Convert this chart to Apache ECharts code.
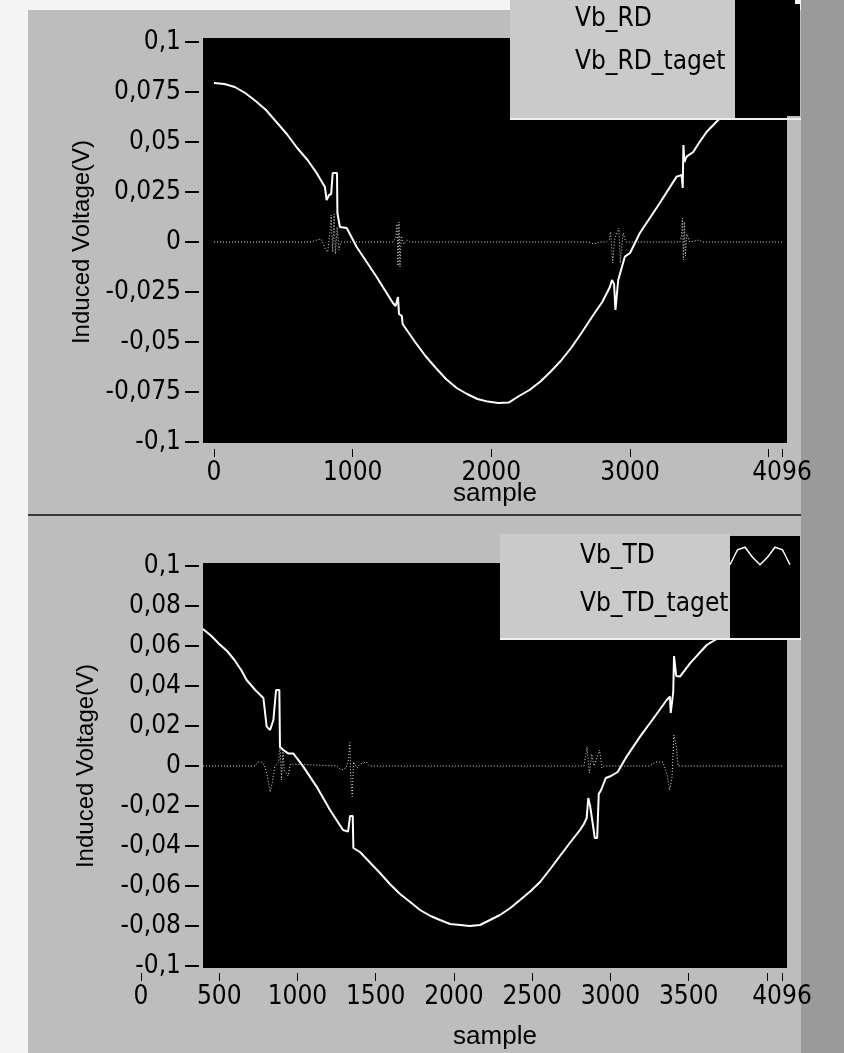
<!DOCTYPE html>
<html><head><meta charset="utf-8">
<script src="https://cdn.jsdelivr.net/npm/echarts@6/dist/echarts.min.js"></script>
<style>html,body{margin:0;padding:0;background:#fff}#c{width:844px;height:1053px}</style>
</head><body><div id="c"></div>
<script>
// ---------- data ----------
const xLabelsTop = [0, 1000, 2000, 3000, 4096];
const xTicksTop = [0, 1000, 2000, 3000, 4000, 4096];
const xLabelsBottom = [0, 500, 1000, 1500, 2000, 2500, 3000, 3500, 4096];
const xTicksBottom = [0, 500, 1000, 1500, 2000, 2500, 3000, 3500, 4000, 4096];

const rdSample = [0,75,150,225,300,375,450,525,600,675,740,800,812,830,845,856,887,890,908,957,1029,1173,1290,1310,1327,1334,1355,1360,1400,1450,1525,1600,1675,1750,1825,1900,1975,2050,2125,2200,2275,2350,2425,2500,2575,2650,2735,2800,2855,2870,2885,2895,2905,2915,2963,3000,3071,3215,3336,3372,3380,3385,3392,3408,3456,3492,3552,3636,3700,3800,3900,4000,4096];
const rdValue  = [0.0795,0.079,0.0775,0.0745,0.0705,0.066,0.06,0.054,0.047,0.041,0.0345,0.0275,0.021,0.0235,0.024,0.0345,0.0345,0.0145,0.0075,0.007,-0.0025,-0.0175,-0.0305,-0.032,-0.0275,-0.036,-0.037,-0.041,-0.045,-0.05,-0.057,-0.063,-0.0686,-0.073,-0.076,-0.0785,-0.0798,-0.0805,-0.0803,-0.077,-0.074,-0.07,-0.065,-0.0595,-0.053,-0.0455,-0.0365,-0.03,-0.0225,-0.019,-0.021,-0.034,-0.034,-0.019,-0.0073,-0.0055,0.0045,0.0195,0.0327,0.0335,0.027,0.0485,0.04,0.0427,0.045,0.049,0.055,0.061,0.0645,0.07,0.0745,0.0775,0.079];

const rdtSample = [0,700,740,770,790,805,820,835,845,856,866,876,888,900,915,1000,1290,1310,1320,1327,1334,1341,1350,1370,1390,1420,1680,1690,1700,2700,2740,2780,2830,2850,2860,2875,2890,2920,2930,2950,2970,3360,3370,3378,3385,3392,3400,3410,3430,3500,3520,4096];
const rdtValue  = [0,0,0.001,0.0015,-0.001,-0.004,-0.005,0.0045,0.0135,-0.005,0.014,-0.006,0.0075,-0.004,0,0,0,0.002,0.009,-0.012,0.01,-0.0125,0.003,-0.001,0.001,0,0,-0.001,0,0,-0.001,0,0,0.001,0.005,-0.0105,0.002,0.007,-0.0105,0.0045,0,0,0.003,0.012,-0.009,0.01,-0.007,0.004,0,0.001,0,0];

const tdSample = [396,450,500,550,597,640,675,730,782,793,803,825,846,858,863,884,888,909,941,973,1037,1122,1208,1291,1323,1336,1353,1357,1362,1399,1460,1527,1590,1655,1720,1783,1850,1911,1975,2040,2100,2166,2230,2294,2360,2422,2490,2550,2615,2677,2740,2805,2830,2848,2858,2870,2900,2915,2925,2940,2970,3003,3046,3103,3189,3295,3359,3380,3385,3401,3406,3412,3420,3444,3508,3615,3700,3800,3900,4000,4096];
const tdValue  = [0.0685,0.065,0.061,0.0575,0.053,0.048,0.043,0.038,0.034,0.0265,0.0197,0.018,0.023,0.024,0.038,0.038,0.0097,0.008,0.0063,0.0063,-0.0003,-0.0103,-0.022,-0.032,-0.0328,-0.025,-0.025,-0.041,-0.042,-0.043,-0.048,-0.0535,-0.059,-0.064,-0.068,-0.072,-0.075,-0.077,-0.079,-0.0795,-0.08,-0.0795,-0.077,-0.0745,-0.071,-0.067,-0.0625,-0.058,-0.0515,-0.045,-0.0385,-0.032,-0.029,-0.026,-0.016,-0.02,-0.036,-0.036,-0.014,-0.012,-0.006,-0.005,-0.003,0.0047,0.0147,0.026,0.033,0.0347,0.0265,0.037,0.055,0.0547,0.045,0.0447,0.0513,0.0605,0.0645,0.07,0.074,0.077,0.079];

const tdtSample = [396,730,745,770,790,810,825,840,855,880,888,898,907,915,940,955,965,1250,1280,1310,1325,1335,1342,1350,1358,1380,1400,1440,1460,2830,2850,2865,2880,2895,2930,2945,2960,3250,3290,3335,3361,3378,3393,3405,3420,3432,3460,4096];
const tdtValue  = [0,0,0.002,0.002,0,-0.006,-0.013,-0.008,0,0.002,0.0115,-0.007,0.008,-0.002,-0.005,0.001,0,0,-0.002,-0.001,0.003,0.0117,-0.0085,-0.0153,0.002,-0.001,0.001,0.002,0,0,0.0095,-0.0035,0.006,0,0.008,-0.001,0,0,0.002,0.002,-0.004,-0.012,-0.006,0.0155,0.01,0,0,0];

const seriesNames = ['Vb_RD', 'Vb_RD_taget', 'Vb_TD', 'Vb_TD_taget'];

// ---------- helpers ----------
const zip = (a, b) => a.map((s, i) => [s, b[i]]);
const fmtY = v => { const r = +(+v).toFixed(3); return (r === 0 ? '0' : String(r)).replace('.', ','); };
const NARROW = "'Liberation Sans Narrow','DejaVu Sans Condensed','Liberation Sans',sans-serif";
const REG = "'Liberation Sans','DejaVu Sans',sans-serif";
const PANEL = '#bdbdbd';
const LEGBG = '#cacaca';

const txt = { color: '#000', fontFamily: NARROW, fontSize: 26 };

function plotAxes(gi, labels, ticks, yint, yOffset) {
  return {
    x: {
      type: 'value', gridIndex: gi, min: 0, max: 4096, offset: 7,
      axisLine: { show: false, onZero: false },
      axisTick: { show: true, length: 8, lineStyle: { color: '#000', width: 1 }, customValues: ticks },
      axisLabel: Object.assign({ customValues: labels, margin: 11, formatter: v => String(v) }, txt),
      splitLine: { show: false }
    },
    y: {
      type: 'value', gridIndex: gi, min: -0.1, max: 0.1, interval: yint, offset: yOffset,
      axisLine: { show: false, onZero: false },
      axisTick: { show: true, length: 14, lineStyle: { color: '#000', width: 2 } },
      axisLabel: Object.assign({ margin: 18, formatter: fmtY }, txt),
      splitLine: { show: false },
      name: 'Induced Voltage(V)', nameLocation: 'middle', nameGap: 101, nameRotate: 90,
      nameTextStyle: { color: '#000', fontFamily: REG, fontSize: 24 }
    }
  };
}

const axTop = plotAxes(1, xLabelsTop, xTicksTop, 0.025, 15);
const axBot = plotAxes(3, xLabelsBottom, xTicksBottom, 0.02, -58);

function bgX(gi, gap) {
  return { type: 'value', gridIndex: gi, min: 0, max: 1, show: true,
    axisLine: { show: false, onZero: false }, axisTick: { show: false }, axisLabel: { show: false }, splitLine: { show: false },
    name: 'sample', nameLocation: 'middle', nameGap: gap,
    nameTextStyle: { color: '#000', fontFamily: REG, fontSize: 26 } };
}
function bgY(gi) {
  return { type: 'value', gridIndex: gi, min: 0, max: 1, show: false, splitLine: { show: false } };
}

const mainLine = { color: '#ffffff', width: 2 };
const tgtLine = { color: '#e2e2e2', width: 1, type: [1, 2] };

const waveIcon = 'path://M0,16 L6,4 L12,2 L18,10 L24,16 L30,10 L36,2 L42,4 L48,16';

function makeLegend(names, topPos, leftPos, itemH, textW, firstIcon) {
  return {
    data: names.map((n, i) => (i === 0 && firstIcon)
      ? { name: n, icon: firstIcon, itemStyle: { color: 'rgba(0,0,0,0)', borderColor: '#ffffff', borderWidth: 1.5 } }
      : { name: n, icon: 'rect', itemStyle: { color: '#000', borderWidth: 0 } }),
    orient: 'vertical', align: 'right', left: leftPos, top: topPos,
    padding: 0, itemGap: 0, itemWidth: 60, itemHeight: itemH,
    formatter: n => '{t|' + n + '}',
    textStyle: { color: '#000', fontFamily: NARROW, fontSize: 26,
      rich: { t: { width: textW, height: itemH, lineHeight: itemH, align: 'left', color: '#000', fontFamily: NARROW, fontSize: 26 } } },
    selectedMode: false, z: 10
  };
}

const option = {
  animation: false,
  backgroundColor: PANEL,
  graphic: [
    { type: 'rect', left: 0, top: 0, shape: { width: 28, height: 1053 }, style: { fill: '#f4f4f4' }, z: -1 },
    { type: 'rect', left: 0, top: 0, shape: { width: 844, height: 10 }, style: { fill: '#f4f4f4' }, z: -1 },
    { type: 'rect', left: 801, top: 0, shape: { width: 43, height: 1053 }, style: { fill: '#9a9a9a' }, z: -1 },
    { type: 'rect', left: 28, top: 514, shape: { width: 773, height: 2 }, style: { fill: '#3a3a3a' }, z: -1 },
    // legend boxes (top)
    { type: 'rect', left: 510, top: 0, shape: { width: 225, height: 120 }, style: { fill: LEGBG }, z: 5 },
    { type: 'rect', left: 735, top: 4, shape: { width: 65, height: 112 }, style: { fill: '#000' }, z: 5 },
    { type: 'rect', left: 510, top: 118, shape: { width: 291, height: 2 }, style: { fill: '#f0f0f0' }, z: 5 },
    // legend boxes (bottom)
    { type: 'rect', left: 500, top: 534, shape: { width: 230, height: 106 }, style: { fill: LEGBG }, z: 5 },
    { type: 'rect', left: 730, top: 536, shape: { width: 70, height: 104 }, style: { fill: '#000' }, z: 5 },
    { type: 'rect', left: 500, top: 638, shape: { width: 301, height: 2 }, style: { fill: '#f0f0f0' }, z: 5 }
  ],
  grid: [
    { left: 203, top: 38, width: 584, height: 405, show: true, backgroundColor: '#000', borderWidth: 0 },
    { left: 214, top: 42, width: 568, height: 400, show: false },
    { left: 203, top: 563, width: 584, height: 405, show: true, backgroundColor: '#000', borderWidth: 0 },
    { left: 141, top: 566, width: 641, height: 400, show: false }
  ],
  xAxis: [bgX(0, 38), axTop.x, bgX(2, 56), axBot.x],
  yAxis: [bgY(0), axTop.y, bgY(2), axBot.y],
  legend: [
    makeLegend(['Vb_RD', 'Vb_RD_taget'], -2, 575, 43, 155, null),
    makeLegend(['Vb_TD', 'Vb_TD_taget'], 532, 580, 48, 145, waveIcon)
  ],
  series: [
    { name: seriesNames[0], type: 'line', xAxisIndex: 1, yAxisIndex: 1, data: zip(rdSample, rdValue), showSymbol: false, lineStyle: mainLine, z: 3 },
    { name: seriesNames[1], type: 'line', xAxisIndex: 1, yAxisIndex: 1, data: zip(rdtSample, rdtValue), showSymbol: false, lineStyle: tgtLine, z: 2 },
    { name: seriesNames[2], type: 'line', xAxisIndex: 3, yAxisIndex: 3, data: zip(tdSample, tdValue), showSymbol: false, lineStyle: mainLine, z: 3 },
    { name: seriesNames[3], type: 'line', xAxisIndex: 3, yAxisIndex: 3, data: zip(tdtSample, tdtValue), showSymbol: false, lineStyle: tgtLine, z: 2 }
  ]
};
echarts.init(document.getElementById('c'), null, { renderer: 'canvas' }).setOption(option);
</script></body></html>
